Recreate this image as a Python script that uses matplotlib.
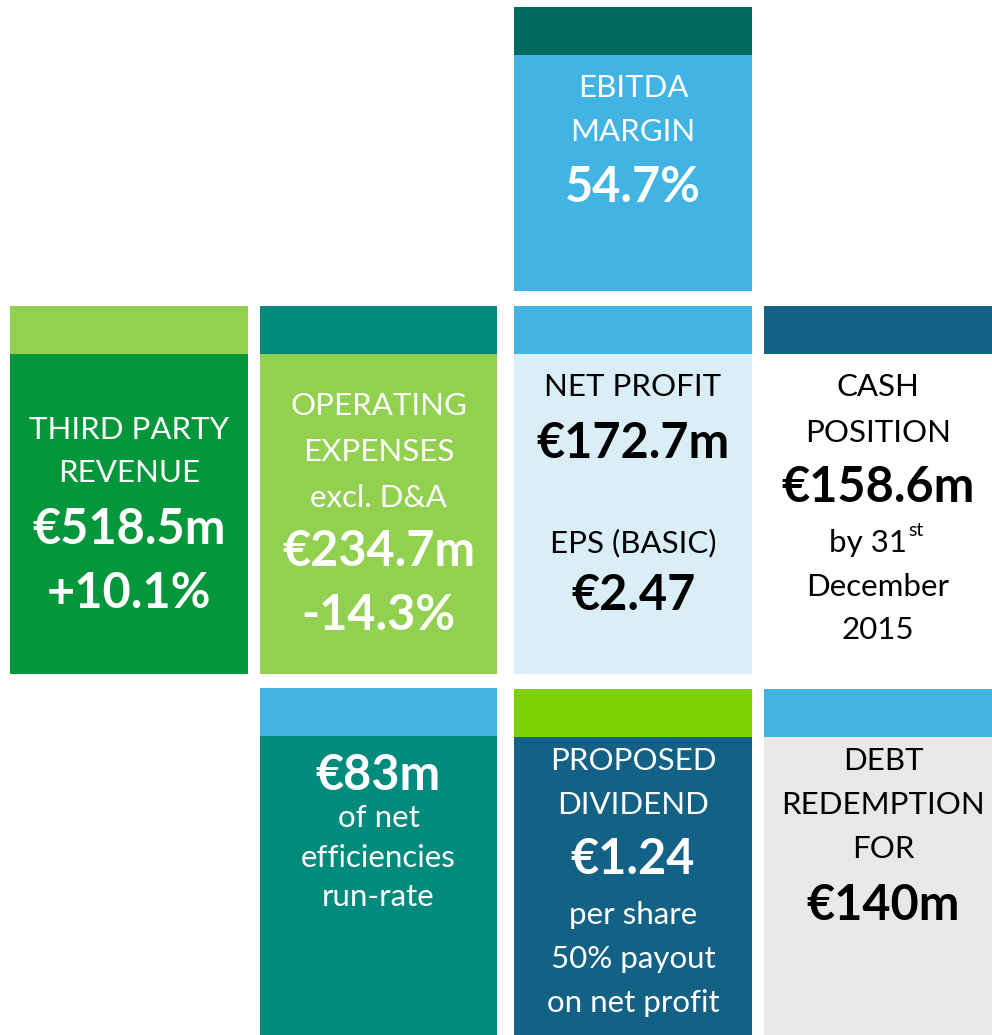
import matplotlib.pyplot as plt
from matplotlib.patches import Rectangle

# ---- content of each tile (text lines, bold flag) ----
ebitda_lines = [("EBITDA", False), ("MARGIN", False), ("54.7%", True)]
revenue_lines = [("THIRD PARTY", False), ("REVENUE", False), ("€518.5m", True), ("+10.1%", True)]
opex_lines = [("OPERATING", False), ("EXPENSES", False), ("excl. D&A", False),
              ("€234.7m", True), ("-14.3%", True)]
profit_lines = [("NET PROFIT", False), ("€172.7m", True), ("EPS (BASIC)", False), ("€2.47", True)]
cash_lines = [("CASH", False), ("POSITION", False), ("€158.6m", True),
              ("by 31", False), ("December", False), ("2015", False)]
effic_lines = [("€83m", True), ("of net", False), ("efficiencies", False), ("run-rate", False)]
dividend_lines = [("PROPOSED", False), ("DIVIDEND", False), ("€1.24", True),
                  ("per share", False), ("50% payout", False), ("on net profit", False)]
debt_lines = [("DEBT", False), ("REDEMPTION", False), ("FOR", False), ("€140m", True)]

# ---- layout (pixel boxes: x0, x1, header top, body top, bottom) ----
tiles = [
    dict(lines=ebitda_lines, box=(514, 752, 7, 55, 291), head="#02695e", body="#42b4e4", fg="white",
         ys=[88, 132, 188]),
    dict(lines=revenue_lines, box=(10, 248, 306, 354, 674), head="#92d050", body="#03963a", fg="white",
         ys=[430, 473, 530, 593]),
    dict(lines=opex_lines, box=(260, 497, 306, 354, 674), head="#008b7d", body="#92d050", fg="white",
         ys=[406, 452, 498, 552, 615]),
    dict(lines=profit_lines, box=(514, 752, 306, 354, 674), head="#42b4e4", body="#daeef8", fg="black",
         ys=[387, 443, 543, 596]),
    dict(lines=cash_lines, box=(764, 992, 306, 354, 674), head="#136184", body="white", fg="black",
         ys=[387, 433, 488, 543, 587, 630]),
    dict(lines=effic_lines, box=(260, 497, 688, 736, 1035), head="#42b4e4", body="#008b7d", fg="white",
         ys=[776, 818, 858, 897]),
    dict(lines=dividend_lines, box=(514, 752, 689, 737, 1035), head="#7ed100", body="#136184", fg="white",
         ys=[761, 805, 860, 915, 959, 1003]),
    dict(lines=debt_lines, box=(764, 992, 689, 737, 1035), head="#42b4e4", body="#e8e8e8", fg="black",
         ys=[761, 805, 849, 905]),
]

W, H = 992, 1035
fig = plt.figure(figsize=(W / 100, H / 100), dpi=100)
ax = fig.add_axes([0, 0, 1, 1])
ax.set_xlim(0, W)
ax.set_ylim(H, 0)
ax.axis("off")

FONT = "Lato"
for t in tiles:
    x0, x1, yh, yb, y1 = t["box"]
    ax.add_patch(Rectangle((x0, yh), x1 - x0, yb - yh, color=t["head"], lw=0))
    ax.add_patch(Rectangle((x0, yb), x1 - x0, y1 - yb, color=t["body"], lw=0))
    cx = (x0 + x1) / 2
    if t["lines"] is debt_lines:
        cx = 883
    for (txt, bold), y in zip(t["lines"], t["ys"]):
        if txt == "by 31":
            tt = ax.text(cx - 10, y, txt, ha="center", va="center", color=t["fg"],
                         fontsize=22.5, family=FONT)
            fig.canvas.draw()
            bb = tt.get_window_extent()
            ax.text(cx - 10 + bb.width / 2 + 1, y - 12, "st", ha="left", va="center",
                    color=t["fg"], fontsize=14, family=FONT)
            continue
        ax.text(cx, y, txt, ha="center", va="center", color=t["fg"],
                fontsize=35 if bold else 22.5, fontweight="bold" if bold else "normal",
                family=FONT)

fig.savefig("out.png", dpi=100)
